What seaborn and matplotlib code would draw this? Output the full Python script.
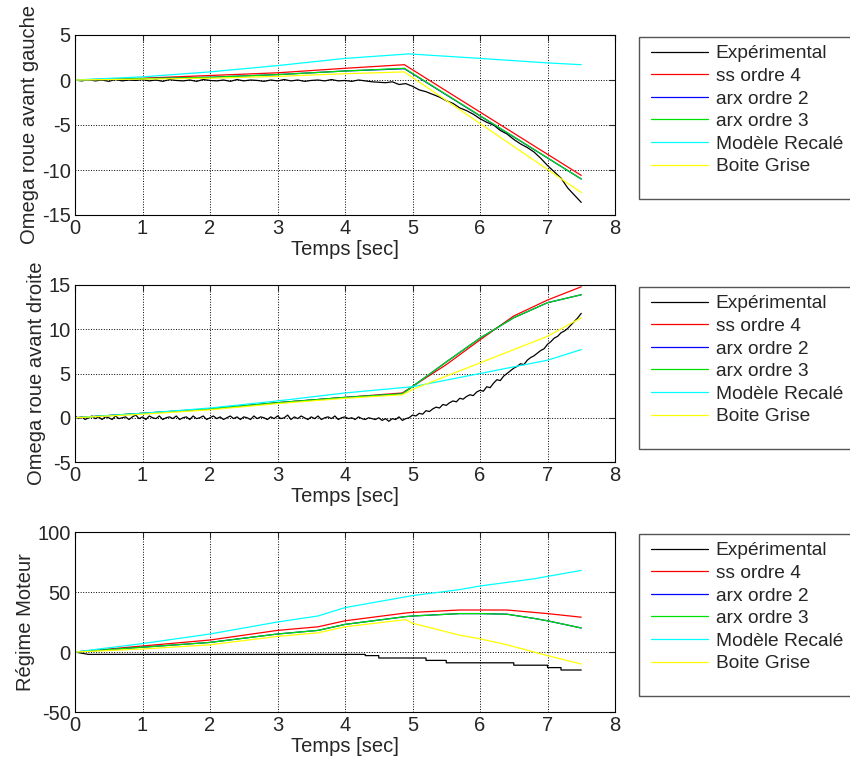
import numpy as np
import pandas as pd
import matplotlib
matplotlib.use('Agg')
import matplotlib.pyplot as plt
from matplotlib.patches import Rectangle
import seaborn as sns

# ---------- data ----------
series_names = ['Expérimental', 'ss ordre 4', 'arx ordre 2', 'arx ordre 3',
                'Modèle Recalé', 'Boite Grise']
series_colors = ['black', 'red', 'blue', '#00e000', 'cyan', 'yellow']

# experimental time bases
t_exp = np.round(np.arange(0, 7.51, 0.1), 2)
t_exp_fine = np.round(np.arange(0, 7.501, 0.05), 2)

# panel 1: Omega roue avant gauche
exp1 = [0.0, -0.1, 0.05, -0.1, 0.0, -0.15, 0.05, -0.1, 0.0, -0.05,
        0.05, -0.1, 0.0, -0.15, 0.05, -0.05, -0.1, 0.0, -0.15, 0.05,
        -0.05, -0.1, 0.0, -0.15, 0.05, -0.1, 0.0, -0.05, -0.15, 0.0,
        -0.1, 0.05, -0.1, 0.0, -0.15, -0.05, 0.0, -0.1, 0.05, -0.1,
        -0.05, -0.15, 0.0, -0.1, -0.2, -0.25, -0.3, -0.2, -0.5, -0.4,
        -0.7, -1.1, -1.3, -1.6, -1.9, -2.3, -2.6, -3.1, -3.4, -3.8,
        -4.3, -4.7, -5.0, -5.6, -6.0, -6.6, -7.1, -7.5, -8.0, -8.7,
        -9.5, -10.2, -10.9, -12.0, -12.8, -13.6]
t1_ss = [0, 1, 2, 3, 4, 4.88, 7.5]
ss1 = [0, 0.2, 0.5, 0.8, 1.3, 1.7, -10.6]
t1_arx = [0, 1, 2, 3, 4, 4.88, 7.5]
arx2_1 = [0, 0.15, 0.3, 0.6, 1.0, 1.25, -11.0]
arx3_1 = [0, 0.15, 0.3, 0.6, 1.0, 1.3, -11.0]
t1_rec = [0, 1, 2, 3, 4, 4.95, 6, 7, 7.5]
rec1 = [0, 0.35, 0.9, 1.6, 2.4, 2.9, 2.4, 1.9, 1.7]
t1_bg = [0, 1, 2, 3, 4, 4.88, 7.5]
bg1 = [0, 0.1, 0.2, 0.4, 0.7, 0.9, -12.5]

# panel 2: Omega roue avant droite (0.05 s steps)
exp2 = [0.2, -0.1, 0.1, -0.2, 0.0, 0.2, -0.1, 0.1, -0.2, 0.1,
        0.0, -0.2, 0.2, -0.1, 0.0, 0.1, -0.2, 0.1, 0.3, -0.1,
        0.1, -0.2, 0.2, 0.0, -0.1, 0.2, -0.2, 0.0, 0.1, -0.1,
        0.2, -0.2, 0.0, 0.1, -0.2, 0.2, -0.1, 0.0, 0.2, -0.2,
        0.0, 0.2, -0.1, 0.1, -0.2, 0.0, 0.2, -0.1, 0.1, -0.2,
        0.1, 0.0, -0.2, 0.2, -0.1, 0.1, 0.0, -0.2, 0.1, -0.1,
        0.2, -0.1, 0.0, 0.3, -0.2, 0.1, -0.1, 0.2, 0.0, -0.2,
        0.1, -0.1, 0.2, -0.2, 0.0, 0.1, -0.1, 0.2, -0.2, 0.0,
        0.1, -0.1, 0.0, -0.2, 0.1, -0.1, -0.2, 0.0, -0.1, -0.2,
        0.0, -0.3, -0.1, -0.4, -0.1, -0.2, 0.1, -0.3, -0.1, 0.0,
        0.3, 0.2, 0.5, 0.4, 0.8, 0.7, 1.0, 1.2, 1.1, 1.5,
        1.4, 1.7, 1.9, 1.8, 2.2, 2.1, 2.4, 2.6, 2.5, 2.9,
        3.1, 3.0, 3.5, 3.4, 3.9, 4.3, 4.2, 4.7, 5.0, 5.3,
        5.6, 5.8, 6.1, 6.0, 6.5, 6.8, 7.0, 7.3, 7.6, 7.8,
        8.3, 8.6, 9.0, 9.2, 9.6, 9.8, 10.1, 10.5, 10.9, 11.3, 11.8]
t2_ss = [0, 1, 2, 3, 4, 4.85, 5.5, 6, 6.5, 7, 7.5]
ss2 = [0, 0.5, 1.0, 1.7, 2.3, 2.8, 6.0, 8.8, 11.5, 13.3, 14.8]
arx2_2 = [0, 0.5, 1.0, 1.7, 2.3, 2.7, 6.3, 9.0, 11.3, 13.0, 13.9]
arx3_2 = [0, 0.5, 1.0, 1.7, 2.3, 2.7, 6.3, 9.0, 11.3, 13.0, 13.9]
t2_rec = [0, 1, 2, 3, 4, 4.85, 5, 6, 7, 7.5]
rec2 = [0, 0.5, 1.1, 1.9, 2.8, 3.4, 3.5, 5.0, 6.5, 7.7]
t2_bg = [0, 1, 2, 3, 4, 4.85, 5, 6, 7, 7.5]
bg2 = [0, 0.4, 0.9, 1.6, 2.2, 2.6, 3.2, 6.2, 9.2, 11.3]

# panel 3: Régime Moteur
t3_exp = [0, 0.2, 4.3, 4.3, 4.5, 4.5, 5.2, 5.2, 5.5, 5.5, 6.5, 6.5,
          7.0, 7.0, 7.2, 7.2, 7.5]
exp3 = [0, -2, -2, -3, -3, -5, -5, -7, -7, -9, -9, -11,
        -11, -13, -13, -15, -15]
t3 = [0, 1, 2, 3, 3.6, 4, 4.9, 5, 5.7, 6, 6.4, 6.8, 7, 7.5]
ss3 = [0, 5, 10, 18, 21, 26, 32.5, 33, 35, 35, 35, 33, 32, 29]
arx2_3 = [0, 4, 8, 15, 18, 23, 29.5, 30, 32, 32, 31.5, 28, 26, 20]
arx3_3 = [0, 4, 8, 15, 18, 23, 29.5, 30, 32, 32, 31.5, 28, 26, 20]
rec3 = [0, 7, 15, 25, 30, 37, 46, 47, 52, 55, 58, 61, 63, 68]
bg3 = [0, 2.5, 6, 13, 16, 21, 27, 24, 14, 11, 6, 0, -3, -10]

panels = [
    {'ylabel': 'Omega roue avant gauche', 'ylim': (-15, 5), 'yticks': [-15, -10, -5, 0, 5],
     'lines': [(t_exp, exp1), (t1_ss, ss1), (t1_arx, arx2_1), (t1_arx, arx3_1),
               (t1_rec, rec1), (t1_bg, bg1)]},
    {'ylabel': 'Omega roue avant droite', 'ylim': (-5, 15), 'yticks': [-5, 0, 5, 10, 15],
     'lines': [(t_exp_fine, exp2), (t2_ss, ss2), (t2_ss, arx2_2), (t2_ss, arx3_2),
               (t2_rec, rec2), (t2_bg, bg2)]},
    {'ylabel': 'Régime Moteur', 'ylim': (-50, 100), 'yticks': [-50, 0, 50, 100],
     'lines': [(t3_exp, exp3), (t3, ss3), (t3, arx2_3), (t3, arx3_3),
               (t3, rec3), (t3, bg3)]},
]

sns.set_style('white')
plt.rcParams['font.family'] = ['Liberation Sans', 'DejaVu Sans']
plt.rcParams['axes.unicode_minus'] = False

fig = plt.figure(figsize=(8.5, 7.65), dpi=100)
# axes boxes in pixels: (left, top, right, bottom)
boxes_px = [(75, 35, 615, 215), (75, 285, 615, 462), (75, 532, 615, 712)]

for (l, t, r, b), p in zip(boxes_px, panels):
    ax = fig.add_axes([l / 850, 1 - b / 765, (r - l) / 850, (b - t) / 765])
    w_px, h_px = r - l, b - t
    for (x, y), name, col in zip(p['lines'], series_names, series_colors):
        df = pd.DataFrame({'t': x, 'v': y})
        sns.lineplot(data=df, x='t', y='v', ax=ax, color=col, lw=0.9,
                     label=name, estimator=None, sort=False)
    ax.set_xlim(0, 8)
    ax.set_ylim(*p['ylim'])
    ax.set_xticks(range(0, 9))
    ax.set_yticks(p['yticks'])
    ax.grid(True, color='black', linestyle=':', linewidth=0.7)
    ax.tick_params(direction='in', labelsize=14.5, length=4, top=True, right=True, pad=3)
    for s in ax.spines.values():
        s.set_color('black')
        s.set_linewidth(0.8)
    ax.set_xlabel('Temps [sec]', fontsize=14.5, labelpad=1)
    ax.set_ylabel(p['ylabel'], fontsize=14.5, labelpad=2)

    # legend box (MATLAB style, cut off at the right figure edge)
    box_top, box_h = 2, 162
    ax.add_patch(Rectangle(((639 - l) / w_px, 1 - (box_top + box_h) / h_px),
                           300 / w_px, box_h / h_px,
                           transform=ax.transAxes, clip_on=False, fill=True,
                           facecolor='white', edgecolor='#555555', lw=1.0, zorder=5))
    leg = ax.legend(loc='upper left', bbox_to_anchor=((651 - l) / w_px, 1 - 10 / h_px),
                    fontsize=13.8, frameon=False, handlelength=2.95,
                    handletextpad=0.42, borderaxespad=0, borderpad=0,
                    labelspacing=0.27)
    leg.set_zorder(6)

fig.savefig('out.png', dpi=100)
